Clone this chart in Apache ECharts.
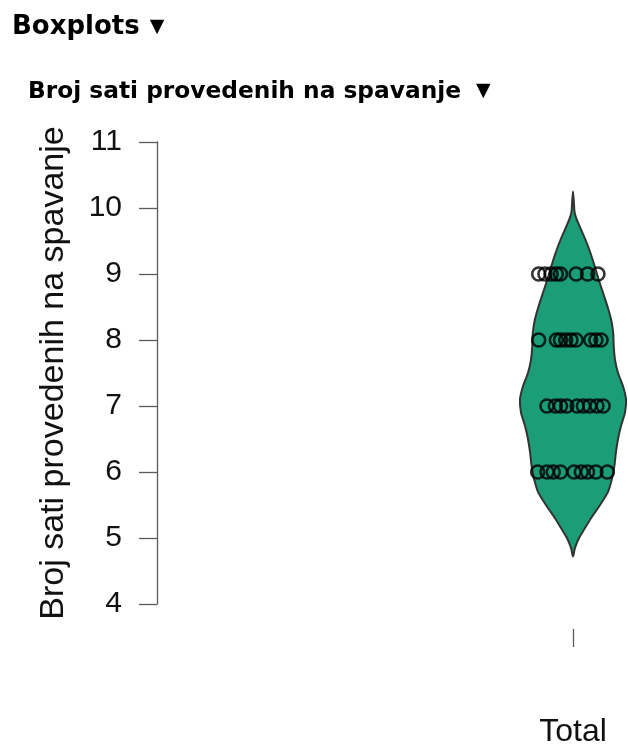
<!DOCTYPE html>
<html lang="hr">

<head>
    <meta charset="UTF-8">
    <meta name="viewport" content="width=device-width, initial-scale=1.0">
    <title>Boxplots</title>
    <style>
        * {
            margin: 0;
            padding: 0;
        }
    </style>
    <script src="https://cdn.jsdelivr.net/npm/echarts@6.0.0/dist/echarts.min.js"></script>
</head>

<body>
    <div id="echart" style="width: 628px;height: 753px;"></div>
    <script>
        // y-os
        var yTicks = [4, 5, 6, 7, 8, 9, 10, 11]
        var category = 'Total'

        // pojedinacni odgovori (sati) i horizontalni pomak tocke
        var pointHours = [
            9, 9, 9, 9, 9, 9, 9, 9,
            8, 8, 8, 8, 8, 8, 8, 8, 8,
            7, 7, 7, 7, 7, 7, 7, 7, 7,
            6, 6, 6, 6, 6, 6, 6, 6, 6
        ]
        var pointJitter = [
            -0.33, -0.27, -0.21, -0.16, -0.12, 0.03, 0.14, 0.24,
            -0.33, -0.16, -0.12, -0.07, -0.02, 0.03, 0.17, 0.22, 0.27,
            -0.25, -0.17, -0.12, -0.06, 0.04, 0.10, 0.16, 0.23, 0.29,
            -0.34, -0.25, -0.19, -0.12, 0.01, 0.08, 0.14, 0.22, 0.33
        ]

        // obris violine: sati i polovina sirine (gustoca)
        var violinHours = [10.25, 10.1, 9.95, 9.85, 9.7, 9.5, 9.3, 9.1, 8.9, 8.7, 8.5, 8.3, 8.1, 7.9, 7.7, 7.5,
            7.3, 7.1, 6.9, 6.7, 6.5, 6.3, 6.1, 5.9, 5.7, 5.5, 5.3, 5.15, 5.0, 4.85, 4.72
        ]
        var violinHalfWidth = [0, 0.008, 0.014, 0.03, 0.07, 0.125, 0.172, 0.212, 0.25, 0.292, 0.333, 0.368, 0.387, 0.392, 0.404, 0.433,
            0.481, 0.51, 0.5, 0.462, 0.433, 0.413, 0.399, 0.375, 0.337, 0.26, 0.173, 0.115, 0.058, 0.019, 0
        ]

        var plotFont = '"Liberation Sans", Arial, sans-serif'
        var headFont = '"DejaVu Sans", Verdana, sans-serif'

        var points = pointHours.map((h, i) => [pointJitter[i], h])

        var echart = echarts.init(document.getElementById('echart'));
        var option = {
            animation: false,
            title: [{
                text: '{a|Boxplots}  {b|▼}',
                left: 12,
                top: 14,
                padding: 0,
                textStyle: {
                    rich: {
                        a: { fontFamily: headFont, fontSize: 26, fontWeight: 'bold', color: '#000' },
                        b: { fontFamily: headFont, fontSize: 19, color: '#000' }
                    }
                }
            }, {
                text: '{a|Broj sati provedenih na spavanje}   {b|▼}',
                left: 28,
                top: 80,
                padding: 0,
                textStyle: {
                    rich: {
                        a: { fontFamily: headFont, fontSize: 23.3, fontWeight: 'bold', color: '#000' },
                        b: { fontFamily: headFont, fontSize: 19, color: '#000' }
                    }
                }
            }],
            grid: {
                left: 157,
                top: 142,
                bottom: 149,
                right: 3,
                containLabel: false,
                outerBoundsMode: 'none'
            },
            xAxis: {
                type: 'value',
                min: -4,
                max: 0.5,
                offset: 25,
                axisLine: { show: false, onZero: false },
                splitLine: { show: false },
                axisTick: {
                    show: true,
                    customValues: [0],
                    length: 18,
                    lineStyle: { color: '#5a5a5a', width: 1.3 }
                },
                axisLabel: {
                    customValues: [0],
                    formatter: () => category,
                    margin: 87,
                    fontFamily: plotFont,
                    fontSize: 32,
                    color: '#111'
                }
            },
            yAxis: {
                type: 'value',
                min: yTicks[0],
                max: yTicks[yTicks.length - 1],
                interval: 1,
                name: 'Broj sati provedenih na spavanje',
                nameLocation: 'middle',
                nameGap: 86,
                nameTextStyle: {
                    fontFamily: plotFont,
                    fontSize: 34,
                    color: '#111'
                },
                axisLine: { show: true, onZero: false, lineStyle: { color: '#5a5a5a', width: 1.3 } },
                axisTick: { show: true, length: 18, lineStyle: { color: '#5a5a5a', width: 1.3 } },
                splitLine: { show: false },
                axisLabel: {
                    margin: 35,
                    fontFamily: plotFont,
                    fontSize: 30,
                    color: '#111'
                }
            },
            series: [{
                type: 'custom',
                clip: false,
                data: [[0, 7]],
                renderItem: (params, api) => {
                    var n = violinHours.length
                    var right = violinHours.map((h, i) => api.coord([violinHalfWidth[i], h]))
                    // lijeva strana bez vrhova da se tocke ne ponavljaju
                    var left = []
                    for (var i = n - 2; i >= 1; i--) {
                        left.push(api.coord([-violinHalfWidth[i], violinHours[i]]))
                    }
                    return {
                        type: 'polygon',
                        shape: { points: right.concat(left), smooth: 0.2 },
                        style: {
                            fill: '#1b9e77',
                            stroke: '#333',
                            lineWidth: 2
                        }
                    }
                }
            }, {
                type: 'scatter',
                data: points,
                symbol: 'circle',
                symbolSize: 13,
                itemStyle: {
                    color: 'rgba(0,0,0,0)',
                    borderColor: '#000',
                    borderWidth: 2.6
                },
                z: 3
            }]
        };
        echart.setOption(option);
    </script>
</body>

</html>
